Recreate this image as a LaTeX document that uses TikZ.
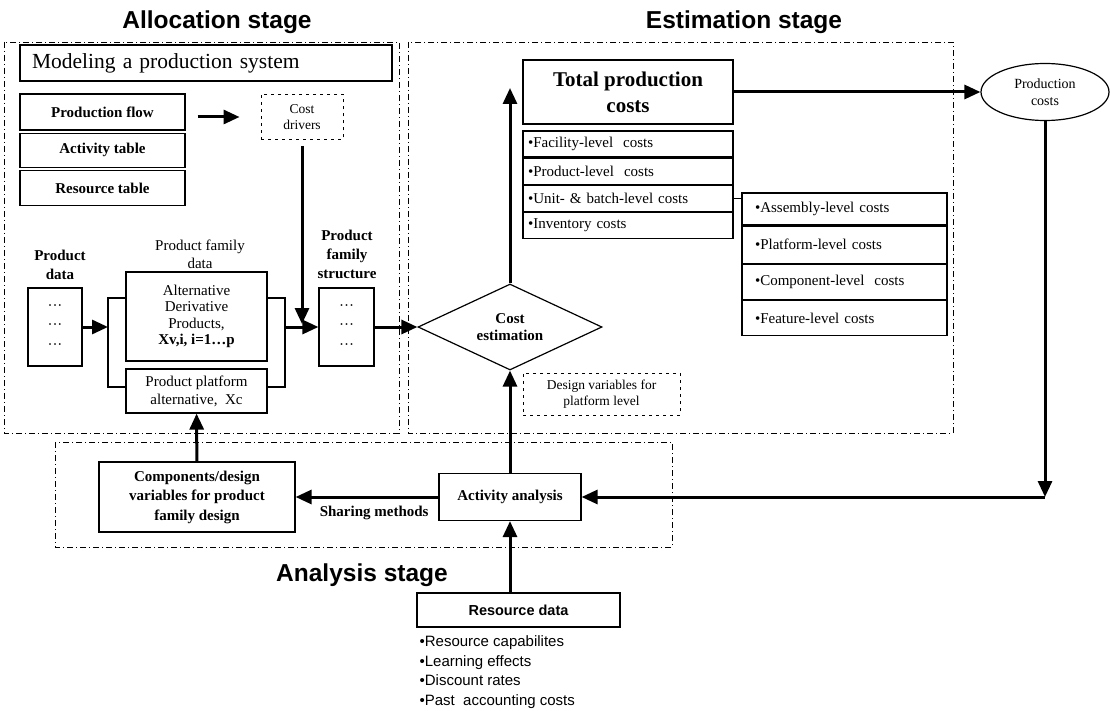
\documentclass[tikz,border=0pt]{standalone}
\usepackage{fontspec}
\setmainfont{Liberation Serif}
\setsansfont{Liberation Sans}
\usetikzlibrary{arrows.meta,positioning,shapes.geometric}

\begin{document}
\begin{tikzpicture}[x=1pt,y=-1pt,>={Triangle[length=16pt,width=14pt]},line join=miter,
        plain box/.style={draw,line width=1.2pt,inner sep=2pt,align=center,font=\fontsize{15}{18}\selectfont},
        bold box/.style={plain box,font=\fontsize{15}{18}\selectfont\bfseries},
        list row/.style={plain box,text width=200pt,inner xsep=5pt,align=left,minimum height=26pt},
        sub row/.style={plain box,text width=179pt,inner xsep=13pt,align=left},
        dot box/.style={plain box,line width=0.9pt,dash pattern=on 3pt off 4pt,font=\fontsize{13.5}{16}\selectfont},
        stage box/.style={draw,line width=0.9pt,dash pattern=on 6pt off 3pt on 1pt off 3pt},
        stage title/.style={font=\sffamily\bfseries\fontsize{24.5}{28}\selectfont},
        flow/.style={->,line width=3pt},
        thin line/.style={line width=1.2pt},
        text label/.style={align=center,inner sep=0pt,font=\fontsize{15}{19}\selectfont}]
        \useasboundingbox (0,0) rectangle (1110,711);

        \draw[stage box] (4,42) rectangle (399,433);
        \draw[stage box] (408,42) rectangle (953,433);
        \draw[stage box] (55,442) rectangle (672,547);
        \node[stage title] (alloc) at (217,22) {Allocation stage};
        \node[stage title] (estim) at (744,22) {Estimation stage};
        \node[stage title] (analy) at (362,575) {Analysis stage};

        \node[plain box,text width=348pt,inner xsep=12pt,minimum height=36pt,align=left,
              font=\fontsize{21.5}{24}\selectfont] (model) at (206,63) {Modeling a production system};
        \node[bold box,minimum width=165pt,minimum height=36pt] (pflow) at (102.5,112) {Production flow};
        \node[bold box,minimum width=165pt,minimum height=34pt,below=2pt of pflow] (acttab) {Activity table};
        \node[bold box,minimum width=165pt,minimum height=35pt,below=2pt of acttab] (restab) {Resource table};
        \node[dot box,minimum width=82pt,minimum height=45pt] (costdrv) at (302,117) {Cost\\drivers};

        \node[text label,font=\fontsize{15}{19}\selectfont\bfseries] (pdlabel) at (60,265) {Product\\data};
        \node[plain box,minimum width=54pt,minimum height=78pt,font=\fontsize{15}{19.5}\selectfont] (pdata) at (55,327) {···\\···\\···};
        \node[text label,font=\fontsize{15}{18}\selectfont] (pfdlabel) at (200,254) {Product family\\data};
        \node[plain box,minimum width=141pt,minimum height=89pt,font=\fontsize{15}{16.5}\selectfont] (alt) at (196.5,316.5)
            {Alternative\\Derivative\\Products,\\\textbf{Xv,i, i=1…p}};
        \node[plain box,minimum width=141pt,minimum height=44pt] (plat) at (196.5,391) {Product platform\\alternative,\ \ Xc};
        \coordinate (brL) at (108,327);
        \coordinate (brR) at (285,327);
        \node[text label,font=\fontsize{15}{19}\selectfont\bfseries] (pfslabel) at (347,254) {Product\\family\\structure};
        \node[plain box,minimum width=55pt,minimum height=78pt,font=\fontsize{15}{19.5}\selectfont] (pfs) at (346.5,327) {···\\···\\···};

        \node[diamond,aspect=2,draw,line width=1.2pt,minimum width=184pt,minimum height=86pt,inner sep=0pt,
              align=center,font=\fontsize{15}{17}\selectfont\bfseries] (dia) at (510,327) {Cost\\estimation};
        \node[dot box,minimum width=157pt,minimum height=42pt] (design) at (601.5,394) {Design variables for\\platform level};

        \node[plain box,minimum width=210pt,minimum height=64pt,font=\fontsize{21}{26}\selectfont\bfseries] (tpc) at (628,92) {Total production\\costs};
        \node[list row] (fac) at (628,144) {•Facility-level\ \ costs};
        \node[list row,below=0pt of fac] (prod) {•Product-level\ \ costs};
        \node[list row,below=0pt of prod] (unit) {•Unit- \& batch-level costs};
        \node[list row,below=0pt of unit] (inv) {•Inventory costs};
        \node[sub row,minimum height=32pt] (asmc) at (844.5,209) {•Assembly-level costs};
        \node[sub row,minimum height=37pt,below=0pt of asmc] (platc) {•Platform-level costs};
        \node[sub row,minimum height=35pt,below=0pt of platc] (compc) {•Component-level\ \ costs};
        \node[sub row,minimum height=35pt,below=0pt of compc] (featc) {•Feature-level costs};
        \node[ellipse,draw,line width=1.2pt,minimum width=128pt,minimum height=57pt,inner sep=0pt,align=center,
              font=\fontsize{14}{17}\selectfont] (pc) at (1045,92) {Production\\costs};
        \coordinate (fb) at (1045,497);

        \node[bold box,minimum width=196pt,minimum height=70pt,font=\fontsize{15}{19.5}\selectfont\bfseries] (comp) at (197,497)
            {Components/design\\variables for product\\family design};
        \node[bold box,minimum width=142pt,minimum height=47pt] (act) at (510,497) {Activity analysis};
        \node[plain box,minimum width=203pt,minimum height=34pt,font=\sffamily\bfseries\fontsize{14.5}{17}\selectfont] (res) at (518.5,610) {Resource data};
        \node[anchor=north west,align=left,inner sep=0pt,font=\sffamily\fontsize{15}{19.5}\selectfont] (reslist)
            at ([xshift=3pt,yshift=-8pt]res.south west)
            {•Resource capabilites\\•Learning effects\\•Discount rates\\•Past\ \ accounting costs};

        \draw[flow,shorten <=12pt,shorten >=21pt] (pflow.east |- costdrv) -- (costdrv);
        \draw[flow,shorten <=6pt,shorten >=3pt] (costdrv) -- (costdrv |- brR);
        \draw[thin line] (alt.west |- 0,298) -| (brL) |- (plat.west |- 0,387);
        \draw[thin line] (alt.east |- 0,298) -| (brR) |- (plat.east |- 0,387);
        \draw[flow] (pdata) -- (brL);
        \draw[flow] (brR) -- (pfs);
        \draw[flow] (pfs) -- (dia);
        \draw[flow] (dia.north) -- ([yshift=4pt]tpc.west -| dia.north);
        \draw[flow] (tpc) -- (pc);
        \draw[thin line] (unit.east) -- (unit.east -| asmc.west);
        \draw[flow] (pc) -- (fb);
        \draw[flow] (fb) -- (act);
        \draw[flow] (act) -- (dia);
        \draw[flow] (act) -- node[pos=0.45,below=4pt,font=\fontsize{15}{18}\selectfont\bfseries] (sharing) {Sharing methods} (comp);
        \draw[flow] (comp) -- (plat);
        \draw[flow] (res.north -| act.south) -- (act.south);
\end{tikzpicture}
\end{document}
